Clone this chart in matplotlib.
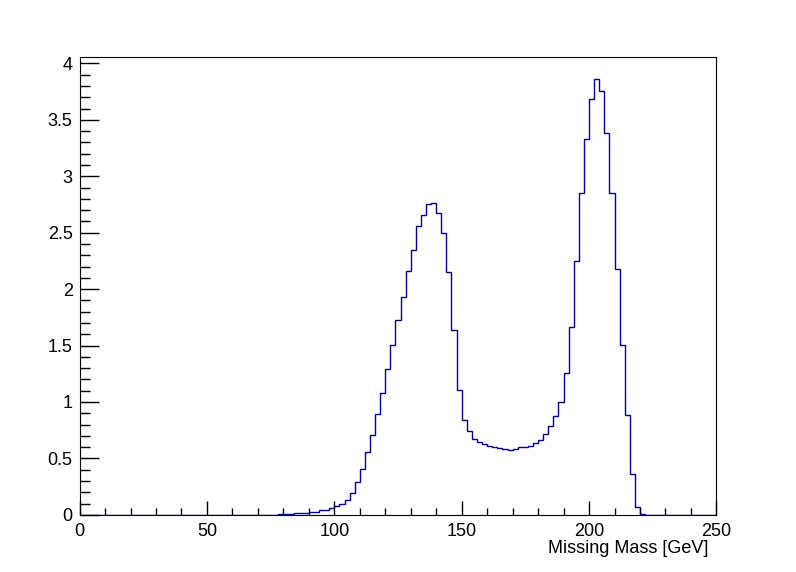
import numpy as np
import matplotlib
matplotlib.use("Agg")
import matplotlib.pyplot as plt
from matplotlib.ticker import MultipleLocator

plt.rcParams['font.family'] = ['Liberation Sans', 'DejaVu Sans']

# histogram: 125 bins of 2 GeV from 0 to 250, non-empty part starts at 78 GeV
bin_width = 2.0
x_lo, x_hi = 0.0, 250.0
first_bin_low = 78.0
counts_nonzero = [
    0.006, 0.006, 0.006, 0.015, 0.015, 0.015, 0.027, 0.027, 0.041, 0.041,
    0.059, 0.077, 0.095, 0.133, 0.192, 0.292, 0.404, 0.558, 0.709, 0.893,
    1.079, 1.293, 1.508, 1.727, 1.930, 2.161, 2.347, 2.562, 2.657, 2.755,
    2.764, 2.675, 2.498, 2.155, 1.638, 1.107, 0.844, 0.744, 0.673, 0.647,
    0.623, 0.611, 0.602, 0.593, 0.584, 0.576, 0.584, 0.602, 0.605, 0.611,
    0.638, 0.664, 0.717, 0.788, 0.877, 1.001, 1.259, 1.665, 2.252, 2.852,
    3.330, 3.685, 3.862, 3.756, 3.386, 2.852, 2.179, 1.508, 0.888, 0.363,
    0.068, 0.009,
]
x_title = "Missing Mass [GeV]"

edges = np.arange(x_lo, x_hi + bin_width / 2, bin_width)
counts = np.zeros(len(edges) - 1)
i0 = int(round((first_bin_low - x_lo) / bin_width))
counts[i0:i0 + len(counts_nonzero)] = counts_nonzero

fig = plt.figure(figsize=(7.96, 5.72), dpi=100)
ax = fig.add_axes([0.1, 0.1, 0.8, 0.8])

ax.stairs(counts, edges, color=(0, 0, 0.6), linewidth=1.0)

ax.set_xlim(x_lo, x_hi)
ax.set_ylim(0, 1.05 * max(counts_nonzero))

ax.xaxis.set_major_locator(MultipleLocator(50))
ax.xaxis.set_minor_locator(MultipleLocator(10))
ax.yaxis.set_major_locator(MultipleLocator(0.5))
ax.yaxis.set_minor_locator(MultipleLocator(0.1))

ax.tick_params(axis='both', which='both', direction='in', top=False, right=False,
               width=1.0, labelsize=13, color='black')
ax.tick_params(axis='x', which='major', length=10, pad=6)
ax.tick_params(axis='x', which='minor', length=5)
ax.tick_params(axis='y', which='major', length=14, pad=5)
ax.tick_params(axis='y', which='minor', length=7)

ax.yaxis.set_major_formatter(plt.FuncFormatter(lambda v, p: f"{v:g}"))

for s in ax.spines.values():
    s.set_linewidth(0.8)
    s.set_color('black')

ax.set_xlabel(x_title, fontsize=13)
ax.xaxis.set_label_coords(0.988, -0.054)
ax.xaxis.label.set_horizontalalignment('right')
ax.xaxis.label.set_verticalalignment('top')

fig.savefig("out.png", dpi=100)
